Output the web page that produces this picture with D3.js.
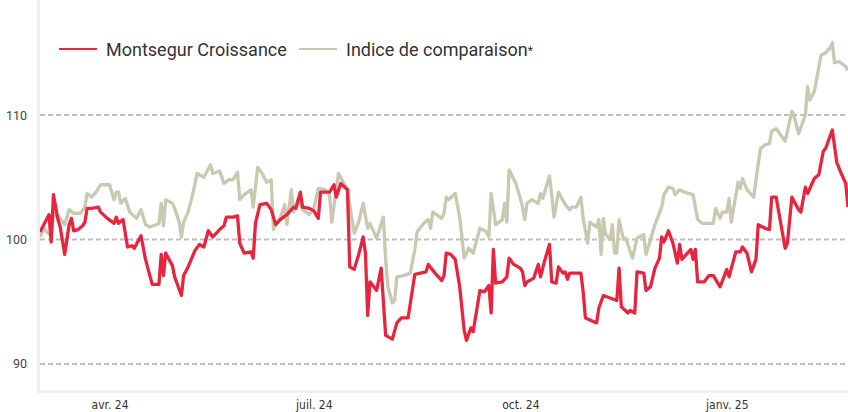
<!DOCTYPE html>
<html>
<head>
<meta charset="utf-8">
<script src="https://cdn.jsdelivr.net/npm/d3@7"></script>
<style>
  body { margin: 0; background: #fff; }
  svg { display: block; }
  .legend text { font-family: Roboto, "Noto Sans", sans-serif; font-size: 18px; fill: #333; }
  .axis--y text { font-family: Roboto, "Open Sans", sans-serif; font-size: 12.5px; fill: #444; }
  .axis--x text { font-family: "Liberation Sans Narrow", "DejaVu Sans Condensed", sans-serif; font-size: 12px; fill: #333; }
</style>
</head>
<body>
<div id="chart"></div>
<script>
// Montsegur Croissance (fund) vs comparison index, base 100
var montsegurDates = ["2024-03-01","2024-03-05","2024-03-06","2024-03-07","2024-03-09","2024-03-10","2024-03-12","2024-03-14","2024-03-15","2024-03-16","2024-03-18","2024-03-20","2024-03-21","2024-03-22","2024-03-24","2024-03-27","2024-03-28","2024-03-31",
  "2024-04-03","2024-04-04","2024-04-05","2024-04-07","2024-04-09","2024-04-11","2024-04-12","2024-04-15","2024-04-17","2024-04-20","2024-04-23","2024-04-24","2024-04-25","2024-04-26","2024-04-29","2024-04-30",
  "2024-05-03","2024-05-04","2024-05-06","2024-05-09","2024-05-11","2024-05-13","2024-05-15","2024-05-17","2024-05-20","2024-05-22","2024-05-23","2024-05-26","2024-05-28","2024-05-29","2024-05-31",
  "2024-06-03","2024-06-04","2024-06-05","2024-06-07","2024-06-10","2024-06-12","2024-06-13","2024-06-14","2024-06-16","2024-06-19","2024-06-22","2024-06-23","2024-06-25","2024-06-26","2024-06-29",
  "2024-07-01","2024-07-03","2024-07-04","2024-07-08","2024-07-10","2024-07-11","2024-07-13","2024-07-16","2024-07-17","2024-07-19","2024-07-21","2024-07-23","2024-07-24","2024-07-25","2024-07-26","2024-07-29","2024-07-31",
  "2024-08-02","2024-08-05","2024-08-07","2024-08-09","2024-08-12","2024-08-15","2024-08-20","2024-08-21","2024-08-24","2024-08-27","2024-08-28","2024-08-29","2024-08-31",
  "2024-09-02","2024-09-04","2024-09-06","2024-09-07","2024-09-09","2024-09-10","2024-09-13","2024-09-15","2024-09-17","2024-09-18","2024-09-19","2024-09-20","2024-09-23","2024-09-25","2024-09-26","2024-09-28",
  "2024-10-01","2024-10-02","2024-10-03","2024-10-04","2024-10-07","2024-10-09","2024-10-10","2024-10-12","2024-10-14","2024-10-15","2024-10-17","2024-10-18","2024-10-20","2024-10-21","2024-10-22","2024-10-23","2024-10-25","2024-10-28","2024-10-29","2024-10-30",
  "2024-11-04","2024-11-05","2024-11-07","2024-11-13","2024-11-14","2024-11-15","2024-11-18","2024-11-19","2024-11-21","2024-11-22","2024-11-25","2024-11-26","2024-11-28","2024-11-30",
  "2024-12-02","2024-12-03","2024-12-04","2024-12-06","2024-12-08","2024-12-10","2024-12-11","2024-12-12","2024-12-13","2024-12-16","2024-12-17","2024-12-18","2024-12-19","2024-12-22","2024-12-24","2024-12-26","2024-12-29",
  "2025-01-01","2025-01-02","2025-01-05","2025-01-07","2025-01-08","2025-01-10","2025-01-12","2025-01-14","2025-01-15","2025-01-18","2025-01-20","2025-01-21","2025-01-23","2025-01-27","2025-01-28","2025-01-30",
  "2025-02-02","2025-02-03","2025-02-05","2025-02-06","2025-02-09","2025-02-11","2025-02-13","2025-02-14","2025-02-17","2025-02-19","2025-02-21","2025-02-23","2025-02-24"];
var montsegurValues = [100.6,102.0,99.8,103.6,101.6,101.0,98.8,101.2,101.7,100.7,100.8,101.1,101.4,102.5,102.5,102.6,102.2,101.7,
  101.3,101.8,101.3,101.6,99.4,99.5,99.3,100.3,98.4,96.4,96.4,98.8,97.1,98.9,97.9,97.0,
  95.5,97.1,97.8,99.1,99.6,99.4,100.7,100.2,100.8,101.1,101.8,101.8,101.9,99.7,98.9,
  99.0,98.5,101.3,102.8,102.9,102.4,101.8,101.2,101.6,102.0,102.6,102.5,103.8,102.6,102.5,
  102.3,101.7,103.8,103.8,104.4,103.4,104.5,104.0,97.8,97.6,98.8,100.2,98.9,93.9,96.6,95.9,97.7,
  92.3,92.0,93.3,93.7,93.7,97.2,97.4,98.0,97.3,96.7,97.1,98.9,98.8,
  98.4,96.2,92.7,91.9,92.9,92.6,95.9,95.8,96.3,94.1,99.2,96.5,96.6,97.0,98.5,98.0,
  97.7,97.4,96.3,96.6,96.9,98.0,97.0,98.4,99.6,96.6,96.5,97.8,97.3,97.4,96.8,97.3,97.3,97.3,95.8,93.7,
  93.3,94.5,95.5,95.1,97.7,94.6,94.1,94.3,94.1,97.4,97.3,95.9,96.2,97.7,
  98.5,100.2,99.8,100.7,99.7,98.1,99.6,98.4,98.6,99.2,98.4,99.2,96.6,96.6,97.1,97.1,96.2,
  97.6,97.0,99.0,99.0,99.4,98.9,97.4,98.4,101.2,100.9,100.8,103.4,103.4,99.3,99.7,103.4,
  102.4,102.2,104.2,103.7,104.9,105.2,107.1,107.3,108.8,106.2,105.3,104.5,102.6];

var indiceDates = ["2024-03-01","2024-03-03","2024-03-04","2024-03-06","2024-03-07","2024-03-10","2024-03-12","2024-03-14","2024-03-16","2024-03-19","2024-03-21","2024-03-22","2024-03-24","2024-03-26","2024-03-28",
  "2024-04-01","2024-04-03","2024-04-04","2024-04-05","2024-04-06","2024-04-08","2024-04-10","2024-04-13","2024-04-15","2024-04-17","2024-04-19","2024-04-22","2024-04-23","2024-04-24","2024-04-25","2024-04-26","2024-04-29","2024-04-30",
  "2024-05-02","2024-05-03","2024-05-04","2024-05-06","2024-05-08","2024-05-10","2024-05-13","2024-05-16","2024-05-17","2024-05-20","2024-05-22","2024-05-24","2024-05-26","2024-05-28","2024-05-29","2024-05-31",
  "2024-06-03","2024-06-04","2024-06-06","2024-06-08","2024-06-10","2024-06-12","2024-06-13","2024-06-14","2024-06-16","2024-06-18","2024-06-19","2024-06-21","2024-06-22","2024-06-24","2024-06-26","2024-06-29",
  "2024-07-01","2024-07-03","2024-07-06","2024-07-08","2024-07-09","2024-07-11","2024-07-12","2024-07-16","2024-07-18","2024-07-19","2024-07-21","2024-07-23","2024-07-25","2024-07-26","2024-07-29",
  "2024-08-01","2024-08-02","2024-08-03","2024-08-05","2024-08-06","2024-08-07","2024-08-10","2024-08-13","2024-08-15","2024-08-16","2024-08-19","2024-08-21","2024-08-22","2024-08-23","2024-08-27","2024-08-28","2024-08-29","2024-08-30",
  "2024-09-02","2024-09-04","2024-09-06","2024-09-08","2024-09-10","2024-09-13","2024-09-16","2024-09-17","2024-09-18","2024-09-20","2024-09-23","2024-09-24","2024-09-25","2024-09-26","2024-09-29",
  "2024-10-01","2024-10-02","2024-10-03","2024-10-04","2024-10-06","2024-10-09","2024-10-10","2024-10-11","2024-10-14","2024-10-15","2024-10-16","2024-10-18","2024-10-21","2024-10-23","2024-10-24","2024-10-26","2024-10-28","2024-10-29","2024-10-31",
  "2024-11-01","2024-11-04","2024-11-05","2024-11-06","2024-11-07","2024-11-08","2024-11-10","2024-11-11","2024-11-12","2024-11-13","2024-11-14","2024-11-16","2024-11-17","2024-11-20","2024-11-22","2024-11-25","2024-11-26","2024-11-28","2024-11-30",
  "2024-12-03","2024-12-04","2024-12-06","2024-12-08","2024-12-09","2024-12-11","2024-12-13","2024-12-17","2024-12-19","2024-12-21","2024-12-26","2024-12-27","2024-12-29","2024-12-30",
  "2025-01-01","2025-01-02","2025-01-03","2025-01-06","2025-01-07","2025-01-08","2025-01-10","2025-01-13","2025-01-14","2025-01-16","2025-01-18","2025-01-20","2025-01-21","2025-01-23","2025-01-27","2025-01-30","2025-01-31",
  "2025-02-02","2025-02-05","2025-02-06","2025-02-07","2025-02-09","2025-02-12","2025-02-14","2025-02-16","2025-02-17","2025-02-18","2025-02-20","2025-02-23","2025-02-24"];
var indiceValues = [100.2,100.9,100.6,100.3,102.1,101.7,101.2,102.4,102.1,102.1,102.6,103.7,103.4,103.8,104.4,
  104.4,103.2,103.8,103.8,102.9,103.3,102.2,101.7,102.4,101.2,101.0,101.2,101.3,102.9,101.1,103.2,102.9,102.5,
  101.4,100.2,101.4,102.2,103.6,105.3,105.0,106.0,105.3,105.5,104.5,104.8,104.8,105.4,103.2,103.6,
  104.0,102.6,105.8,105.3,104.6,104.8,100.8,101.2,101.7,102.8,101.2,104.0,102.2,103.2,102.4,102.0,
  102.5,104.1,104.0,103.6,101.4,104.0,105.3,104.0,101.6,100.5,101.4,102.9,100.9,101.3,100.1,
  101.8,98.4,96.2,94.9,95.1,97.0,97.1,97.3,99.2,100.6,101.3,101.6,100.9,102.2,101.7,102.1,103.4,103.2,
  103.7,101.8,98.5,99.3,98.9,100.9,100.6,100.2,103.7,101.2,101.6,102.9,101.4,105.6,104.5,
  103.3,102.6,101.6,102.9,103.2,102.9,103.7,103.3,105.1,103.6,101.8,103.8,102.8,102.4,102.6,102.6,103.4,101.7,99.7,
  101.4,101.0,101.6,98.8,101.7,100.4,100.0,101.2,98.9,98.9,101.6,100.0,100.1,98.5,100.1,100.4,98.8,100.0,101.2,
  102.6,103.6,104.2,104.1,103.6,104.0,103.8,103.6,101.6,101.3,101.3,102.5,101.7,102.2,
  102.2,103.3,101.4,104.6,104.1,104.9,104.0,103.4,104.8,107.3,107.6,107.7,108.7,108.9,107.9,110.3,109.9,
  108.5,110.0,112.3,111.2,111.9,114.8,115.0,115.4,115.8,114.2,114.3,113.9,113.6];

var seriesNames = ["Montsegur Croissance", "Indice de comparaison"];
var yTicks = [90, 100, 110];
var xTickDates = ["2024-04-01", "2024-07-01", "2024-10-01", "2025-01-01"];
var xTickLabels = ["avr. 24", "juil. 24", "oct. 24", "janv. 25"];

var width = 848, height = 412;
var plot = {left: 40, right: 848, top: 0, bottom: 391};
var colors = ["#e8253f", "#c9c8b1"];

var parse = d3.utcParse("%Y-%m-%d");

var x = d3.scaleUtc()
  .domain([parse("2024-03-01"), parse("2025-02-24")])
  .range([plot.left, plot.right]);

var y = d3.scaleLinear()
  .domain([87.75, 119.24])
  .range([plot.bottom + 1, plot.top]);

var svg = d3.select("#chart").append("svg")
  .attr("width", width)
  .attr("height", height);

svg.append("defs").append("clipPath").attr("id", "clip")
  .append("rect")
  .attr("x", plot.left).attr("y", 0)
  .attr("width", plot.right - plot.left).attr("height", plot.bottom);

// frame: light left and bottom borders
svg.append("rect")
  .attr("x", plot.left - 3).attr("y", 0)
  .attr("width", 3).attr("height", plot.bottom + 2)
  .attr("fill", "#efefef");
svg.append("rect")
  .attr("x", plot.left - 3).attr("y", plot.bottom - 1)
  .attr("width", plot.right - plot.left + 3).attr("height", 3)
  .attr("fill", "#efefef");

// grid
svg.append("g")
  .selectAll("line")
  .data(yTicks)
  .join("line")
  .attr("x1", plot.left).attr("x2", plot.right)
  .attr("y1", d => y(d)).attr("y2", d => y(d))
  .attr("stroke", "#bdbdbd")
  .attr("stroke-width", 1.8)
  .attr("stroke-dasharray", "5,3");

// y axis labels
var yAxis = svg.append("g")
  .attr("class", "axis axis--y")
  .attr("transform", "translate(" + (plot.left - 3) + ",0)")
  .call(d3.axisLeft(y).tickValues(yTicks).tickSize(0).tickPadding(10));
yAxis.select(".domain").remove();

// x axis labels
var xAxis = svg.append("g")
  .attr("class", "axis axis--x")
  .attr("transform", "translate(0," + (plot.bottom + 1) + ")")
  .call(d3.axisBottom(x)
    .tickValues(xTickDates.map(parse))
    .tickFormat((d, i) => xTickLabels[i])
    .tickSize(0)
    .tickPadding(8));
xAxis.select(".domain").remove();

var line = d3.line()
  .x(d => x(d.date))
  .y(d => y(d.value));

var series = [
  montsegurDates.map((d, i) => ({date: parse(d), value: montsegurValues[i]})),
  indiceDates.map((d, i) => ({date: parse(d), value: indiceValues[i]}))
];

var lines = svg.append("g").attr("clip-path", "url(#clip)");
// draw index first so the fund sits on top
[1, 0].forEach(k => {
  lines.append("path")
    .datum(series[k])
    .attr("fill", "none")
    .attr("stroke", colors[k])
    .attr("stroke-width", 3.3)
    .attr("stroke-linejoin", "round")
    .attr("d", line);
});

// legend
var legend = svg.append("g").attr("class", "legend");
var legendX = [59, 299];
seriesNames.forEach((name, i) => {
  var g = legend.append("g").attr("transform", "translate(" + legendX[i] + ",49)");
  g.append("line")
    .attr("x1", 0).attr("x2", 38)
    .attr("stroke", colors[i])
    .attr("stroke-width", 2);
  var t = g.append("text").attr("x", 47).attr("y", 7).text(name);
  if (i === 1) {
    t.append("tspan").attr("font-size", "12px").attr("dy", -1).text("*");
  }
});
</script>
</body>
</html>
